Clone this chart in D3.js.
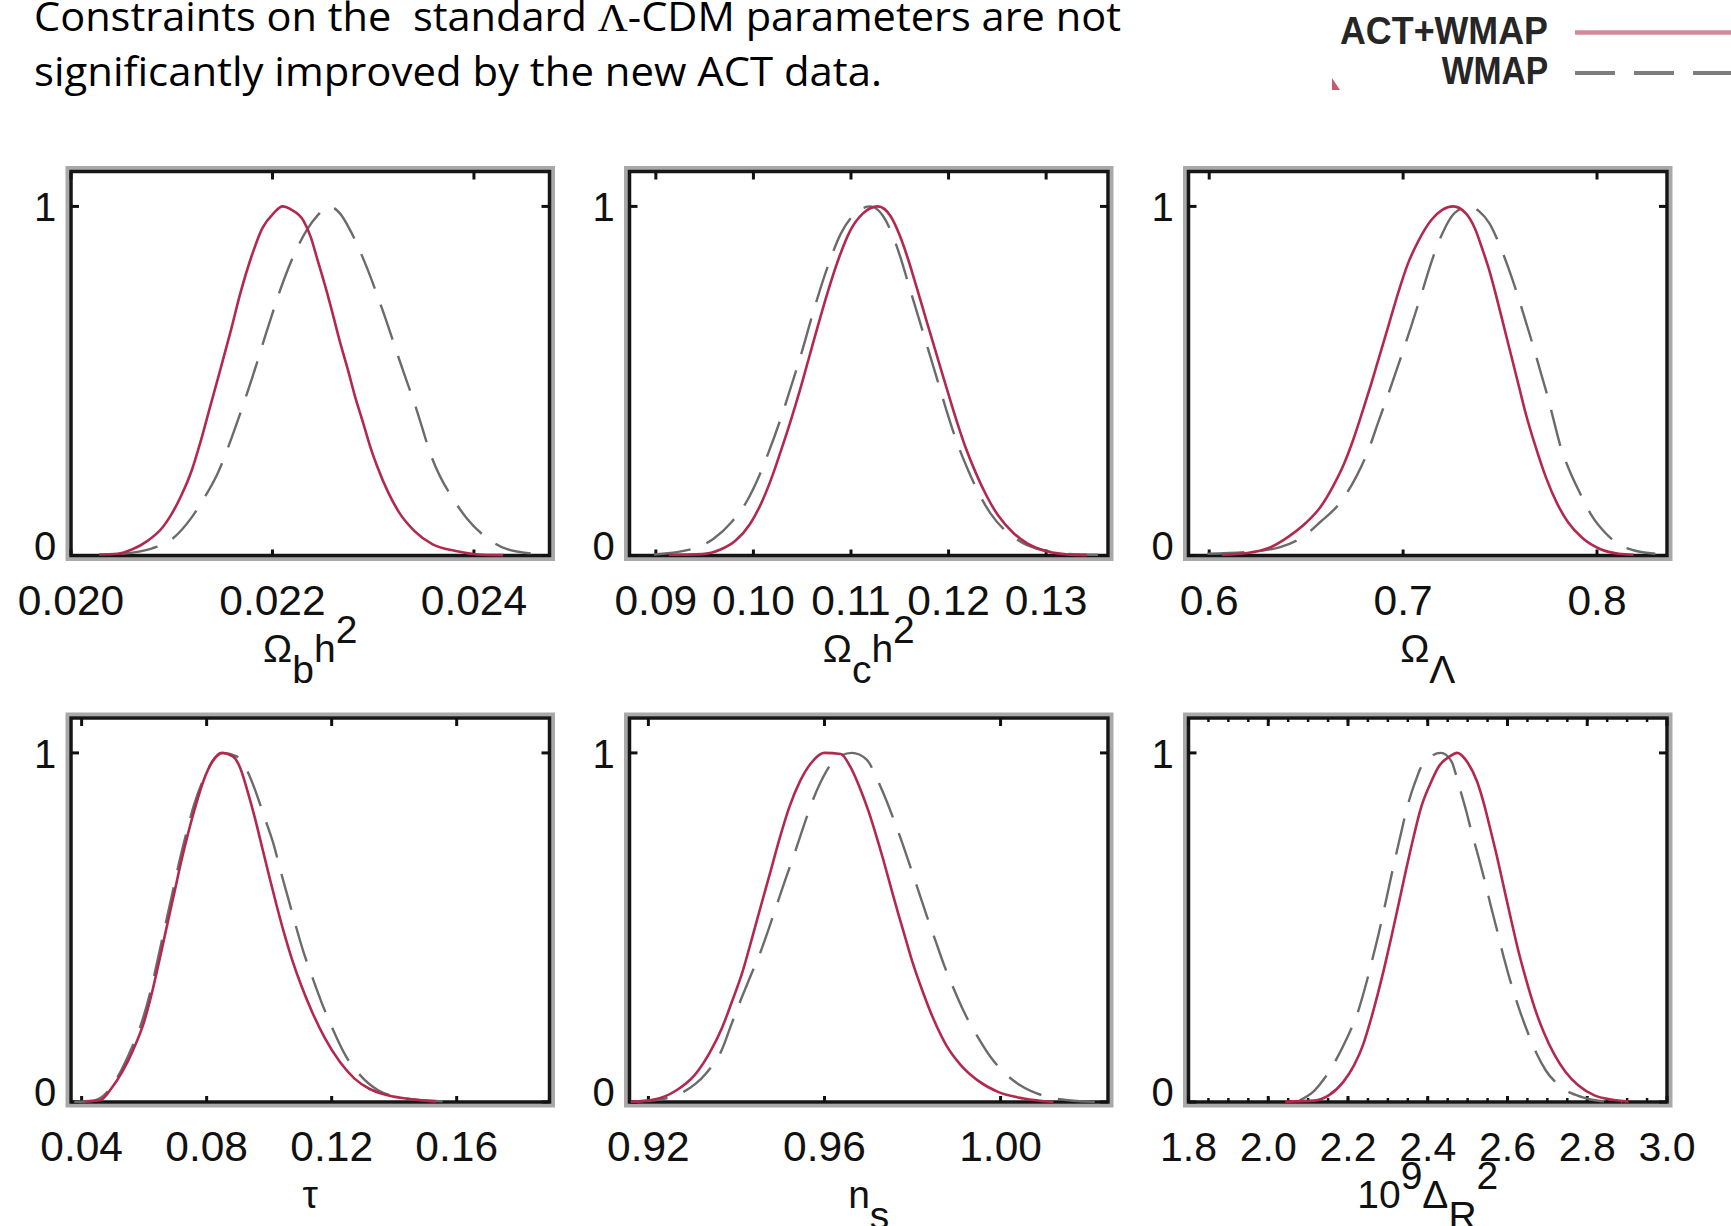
<!DOCTYPE html>
<html>
<head>
<meta charset="utf-8">
<script src="https://cdn.jsdelivr.net/npm/d3@7"></script>
<style>
  html, body { margin: 0; padding: 0; background: #fff; }
  svg { display: block; }
</style>
</head>
<body>
<svg id="chart" width="1731" height="1226"></svg>
<script>
// ---- Marginalised 1-D posteriors (normalised to peak = 1) ----
// Each series is [parameter value, relative likelihood].

// Omega_b h^2
const obhAct = [[0.02028,0.003],[0.02046,0.005],[0.02061,0.018],[0.02076,0.042],[0.02091,0.081],[0.02098,0.110],[0.02109,0.169],[0.02120,0.245],[0.02129,0.330],[0.02138,0.425],[0.02148,0.530],[0.02159,0.648],[0.02168,0.750],[0.02179,0.855],[0.02190,0.938],[0.02201,0.980],[0.02210,1.0],[0.02219,0.990],[0.02231,0.958],[0.02238,0.912],[0.02245,0.844],[0.02253,0.765],[0.02260,0.690],[0.02267,0.612],[0.02275,0.531],[0.02282,0.455],[0.02290,0.380],[0.02297,0.312],[0.02304,0.255],[0.02315,0.180],[0.02326,0.122],[0.02341,0.070],[0.02359,0.032],[0.02382,0.013],[0.02404,0.003],[0.02429,0.001]];
const obhWmap = [[0.02050,0.005],[0.02080,0.020],[0.02098,0.042],[0.02120,0.110],[0.02131,0.159],[0.02146,0.238],[0.02164,0.374],[0.02180,0.510],[0.02196,0.658],[0.02212,0.795],[0.02234,0.932],[0.02245,0.975],[0.02256,1.0],[0.02267,0.980],[0.02278,0.927],[0.02291,0.844],[0.02310,0.697],[0.02326,0.560],[0.02343,0.418],[0.02358,0.282],[0.02382,0.150],[0.02393,0.106],[0.02417,0.042],[0.02433,0.018],[0.02466,0.004]];

// Omega_c h^2
const ochAct = [[0.09133,0.002],[0.09474,0.004],[0.09663,0.017],[0.09815,0.042],[0.09967,0.091],[0.10081,0.150],[0.10194,0.228],[0.10289,0.306],[0.10384,0.388],[0.10479,0.476],[0.10573,0.570],[0.10668,0.665],[0.10763,0.756],[0.10877,0.853],[0.10991,0.930],[0.11123,0.980],[0.11275,1.0],[0.11408,0.971],[0.11502,0.915],[0.11578,0.855],[0.11673,0.768],[0.11768,0.678],[0.11863,0.589],[0.11957,0.501],[0.12052,0.413],[0.12166,0.316],[0.12280,0.236],[0.12393,0.169],[0.12507,0.115],[0.12659,0.066],[0.12810,0.034],[0.13000,0.013],[0.13227,0.003],[0.13417,0.001]];
const ochWmap = [[0.08981,0.003],[0.09360,0.018],[0.09588,0.047],[0.09777,0.096],[0.09929,0.154],[0.10043,0.218],[0.10156,0.296],[0.10270,0.384],[0.10384,0.482],[0.10498,0.585],[0.10592,0.677],[0.10687,0.765],[0.10782,0.844],[0.10896,0.922],[0.11028,0.976],[0.11199,1.0],[0.11332,0.971],[0.11427,0.917],[0.11502,0.858],[0.11597,0.770],[0.11692,0.682],[0.11787,0.594],[0.11882,0.506],[0.11976,0.418],[0.12090,0.321],[0.12204,0.242],[0.12318,0.174],[0.12431,0.120],[0.12583,0.071],[0.12754,0.037],[0.12962,0.015],[0.13190,0.005],[0.13531,0.002]];

// Omega_Lambda
const olAct = [[0.60657,0.002],[0.61972,0.007],[0.63099,0.022],[0.64038,0.052],[0.64977,0.093],[0.65728,0.138],[0.66385,0.198],[0.66948,0.262],[0.67418,0.330],[0.67887,0.409],[0.68357,0.492],[0.68826,0.580],[0.69296,0.668],[0.69765,0.756],[0.70235,0.834],[0.70798,0.902],[0.71455,0.961],[0.72019,0.990],[0.72582,1.0],[0.73239,0.980],[0.73709,0.936],[0.74085,0.878],[0.74460,0.814],[0.74836,0.736],[0.75211,0.653],[0.75587,0.570],[0.75962,0.487],[0.76338,0.404],[0.76808,0.316],[0.77371,0.223],[0.77934,0.150],[0.78498,0.096],[0.79249,0.050],[0.80188,0.018],[0.81127,0.005],[0.81878,0.002]];
const olWmap = [[0.59906,0.005],[0.62160,0.011],[0.63662,0.024],[0.64789,0.052],[0.65728,0.096],[0.66761,0.152],[0.67606,0.228],[0.68169,0.296],[0.68732,0.384],[0.69296,0.472],[0.69859,0.563],[0.70423,0.658],[0.70986,0.756],[0.71455,0.840],[0.72019,0.922],[0.72676,0.982],[0.73427,1.0],[0.73940,0.985],[0.74460,0.951],[0.75023,0.883],[0.75493,0.814],[0.75962,0.736],[0.76338,0.668],[0.76714,0.599],[0.77089,0.526],[0.77465,0.453],[0.77746,0.392],[0.78122,0.312],[0.78592,0.242],[0.79155,0.175],[0.79718,0.115],[0.80376,0.068],[0.81127,0.032],[0.81878,0.015],[0.83005,0.005]];

// tau
const tauAct = [[0.04118,0.002],[0.04590,0.005],[0.04944,0.038],[0.05298,0.086],[0.05652,0.150],[0.06006,0.232],[0.06242,0.310],[0.06478,0.402],[0.06714,0.498],[0.06950,0.593],[0.07186,0.689],[0.07422,0.775],[0.07658,0.852],[0.07894,0.919],[0.08189,0.976],[0.08484,1.0],[0.08838,0.990],[0.09074,0.957],[0.09310,0.890],[0.09546,0.813],[0.09782,0.727],[0.10018,0.641],[0.10254,0.558],[0.10490,0.480],[0.10726,0.410],[0.11021,0.335],[0.11375,0.258],[0.11788,0.182],[0.12260,0.115],[0.12732,0.067],[0.13204,0.038],[0.13794,0.019],[0.14619,0.007],[0.15327,0.001]];
const tauWmap = [[0.03764,0.0],[0.04354,0.003],[0.04826,0.029],[0.05239,0.086],[0.05593,0.153],[0.05947,0.235],[0.06183,0.310],[0.06419,0.402],[0.06655,0.498],[0.06891,0.593],[0.07127,0.689],[0.07363,0.775],[0.07599,0.852],[0.07870,0.919],[0.08189,0.976],[0.08543,1.0],[0.08956,0.990],[0.09251,0.957],[0.09546,0.895],[0.09841,0.818],[0.10136,0.740],[0.10372,0.660],[0.10608,0.584],[0.10844,0.507],[0.11080,0.435],[0.11375,0.359],[0.11670,0.287],[0.12024,0.211],[0.12437,0.134],[0.12909,0.077],[0.13499,0.033],[0.14147,0.014],[0.14973,0.005],[0.15799,0.001]];

// n_s
const nsAct = [[0.91622,0.001],[0.92126,0.007],[0.92630,0.033],[0.93050,0.077],[0.93387,0.140],[0.93681,0.215],[0.93891,0.285],[0.94143,0.375],[0.94353,0.469],[0.94563,0.565],[0.94773,0.660],[0.94983,0.756],[0.95193,0.842],[0.95445,0.919],[0.95697,0.971],[0.95992,1.0],[0.96370,0.997],[0.96580,0.962],[0.96790,0.904],[0.97000,0.833],[0.97168,0.766],[0.97336,0.694],[0.97504,0.617],[0.97672,0.541],[0.97840,0.469],[0.98008,0.397],[0.98218,0.321],[0.98471,0.239],[0.98765,0.163],[0.99101,0.105],[0.99479,0.062],[0.99941,0.029],[1.00529,0.010],[1.01202,0.0]];
const nsWmap = [[0.91600,0.001],[0.92126,0.005],[0.92798,0.029],[0.93303,0.081],[0.93681,0.153],[0.93849,0.210],[0.94059,0.280],[0.94311,0.358],[0.94563,0.435],[0.94731,0.495],[0.94941,0.574],[0.95109,0.636],[0.95319,0.712],[0.95487,0.775],[0.95697,0.852],[0.95908,0.915],[0.96244,0.981],[0.96622,1.0],[0.96958,0.981],[0.97168,0.933],[0.97336,0.885],[0.97546,0.818],[0.97756,0.746],[0.97966,0.668],[0.98134,0.605],[0.98345,0.525],[0.98513,0.465],[0.98723,0.390],[0.98933,0.325],[0.99185,0.254],[0.99437,0.196],[0.99773,0.129],[1.00109,0.081],[1.00445,0.048],[1.00950,0.019],[1.01538,0.005],[1.02210,0.0]];

// 10^9 Delta_R^2
const drAct = [[2.0426,0.001],[2.1152,0.004],[2.1515,0.019],[2.1878,0.057],[2.2150,0.105],[2.2376,0.163],[2.2558,0.230],[2.2739,0.306],[2.2921,0.390],[2.3102,0.480],[2.3283,0.574],[2.3465,0.670],[2.3646,0.760],[2.3828,0.842],[2.4054,0.909],[2.4281,0.962],[2.4553,0.990],[2.4735,1.0],[2.5007,0.971],[2.5234,0.919],[2.5415,0.852],[2.5551,0.790],[2.5732,0.705],[2.5914,0.612],[2.6095,0.520],[2.6277,0.431],[2.6458,0.354],[2.6685,0.268],[2.6912,0.199],[2.7184,0.134],[2.7456,0.086],[2.7773,0.048],[2.8181,0.019],[2.8590,0.007],[2.9034,0.001]];
const drWmap = [[2.0789,0.005],[2.1152,0.032],[2.1424,0.070],[2.1696,0.120],[2.1969,0.182],[2.2240,0.255],[2.2422,0.325],[2.2603,0.405],[2.2785,0.490],[2.2966,0.584],[2.3147,0.679],[2.3329,0.770],[2.3510,0.855],[2.3692,0.919],[2.3873,0.967],[2.4327,1.0],[2.4599,0.975],[2.4689,0.945],[2.4825,0.890],[2.4961,0.835],[2.5098,0.774],[2.5279,0.699],[2.5415,0.640],[2.5596,0.555],[2.5732,0.495],[2.5914,0.411],[2.6050,0.355],[2.6277,0.272],[2.6458,0.214],[2.6730,0.139],[2.6957,0.091],[2.7320,0.045],[2.7864,0.014],[2.8322,0.003],[2.8866,0.0]];

// ---- Axis ranges and tick values ----
const obhRange = [0.020, 0.02475];
const ochRange = [0.0873, 0.13634];
const olRange  = [0.58932, 0.8361];
const tauRange = [0.0366, 0.1897];
const nsRange  = [0.91571, 1.0244];
const drRange  = [1.8, 3.0];

const obhTicks = [0.020, 0.022, 0.024];
const ochTicks = [0.09, 0.10, 0.11, 0.12, 0.13];
const olTicks  = [0.6, 0.7, 0.8];
const tauTicks = [0.04, 0.08, 0.12, 0.16];
const nsTicks  = [0.92, 0.96, 1.00];
const drTicks  = [1.8, 2.0, 2.2, 2.4, 2.6, 2.8, 3.0];
const drMinorTicks = d3.range(1.85, 3.0, 0.05);

const yTicks = [0, 1];

// Axis titles: [text, level]  level 0 = baseline, 1 = subscript, -1 = superscript
const obhTitle = [["Ω",0],["b",1],["h",0],["2",-1]];
const ochTitle = [["Ω",0],["c",1],["h",0],["2",-1]];
const olTitle  = [["Ω",0],["Λ",1]];
const tauTitle = [["τ",0]];
const nsTitle  = [["n",0],["s",1]];
const drTitle  = [["10",0],["9",-1],["Δ",0],["R",1],["2",-1]];

const seriesNames = ["ACT+WMAP", "WMAP"];

// ---- Layout ----
const svg = d3.select("#chart");
const PW = 478.5, PH = 384;
const colLeft = [71, 629.5, 1188.5];
const rowTop = [171.5, 718];
const RED = "#b3294d", GREY = "#6b6b6b";
const DASH = "37,17";
const tickFont = "'Liberation Sans', Arial, Helvetica, sans-serif";

const panels = [
  {act: obhAct, wmap: obhWmap, range: obhRange, ticks: obhTicks, fmt: d3.format(".3f"), title: obhTitle, col: 0, row: 0, fs: 42.5},
  {act: ochAct, wmap: ochWmap, range: ochRange, ticks: ochTicks, fmt: d3.format(".2f"), title: ochTitle, col: 1, row: 0, fs: 42.5},
  {act: olAct,  wmap: olWmap,  range: olRange,  ticks: olTicks,  fmt: d3.format(".1f"), title: olTitle,  col: 2, row: 0, fs: 42.5},
  {act: tauAct, wmap: tauWmap, range: tauRange, ticks: tauTicks, fmt: d3.format(".2f"), title: tauTitle, col: 0, row: 1, fs: 42.5},
  {act: nsAct,  wmap: nsWmap,  range: nsRange,  ticks: nsTicks,  fmt: d3.format(".2f"), title: nsTitle,  col: 1, row: 1, fs: 42.5},
  {act: drAct,  wmap: drWmap,  range: drRange,  ticks: drTicks,  fmt: d3.format(".1f"), title: drTitle,  col: 2, row: 1, fs: 41, minor: drMinorTicks}
];

panels.forEach(p => {
  const left = colLeft[p.col], top = rowTop[p.row];
  const right = left + PW, bottom = top + PH;
  const x = d3.scaleLinear().domain(p.range).range([left, right]);
  const y = d3.scaleLinear().domain([0, 1.1]).range([bottom, top]);
  const g = svg.append("g");

  // soft grey halo around the frame
  g.append("rect")
    .attr("x", left - 3.5).attr("y", top - 3.5)
    .attr("width", PW + 7).attr("height", PH + 7)
    .attr("fill", "none").attr("stroke", "#a9a9a9").attr("stroke-width", 4);
  // frame
  g.append("rect")
    .attr("x", left).attr("y", top).attr("width", PW).attr("height", PH)
    .attr("fill", "none").attr("stroke", "#161616").attr("stroke-width", 3.5);

  // x ticks (top, pointing in; bottom, pointing in)
  const tg = g.append("g").attr("stroke", "#111").attr("stroke-width", 3);
  p.ticks.forEach(t => {
    tg.append("line").attr("x1", x(t)).attr("x2", x(t)).attr("y1", top).attr("y2", top + 8);
    tg.append("line").attr("x1", x(t)).attr("x2", x(t)).attr("y1", bottom).attr("y2", bottom - 6);
  });
  if (p.minor) {
    p.minor.forEach(t => {
      tg.append("line").attr("x1", x(t)).attr("x2", x(t)).attr("y1", top).attr("y2", top + 4).attr("stroke-width", 2.5);
      tg.append("line").attr("x1", x(t)).attr("x2", x(t)).attr("y1", bottom).attr("y2", bottom - 4).attr("stroke-width", 2.5);
    });
  }
  // y ticks at 0 and 1 on both sides
  yTicks.forEach(v => {
    tg.append("line").attr("x1", left).attr("x2", left + 8).attr("y1", y(v)).attr("y2", y(v));
    tg.append("line").attr("x1", right).attr("x2", right - 8).attr("y1", y(v)).attr("y2", y(v));
  });

  // x tick labels
  g.append("g").selectAll("text").data(p.ticks).join("text")
    .attr("x", d => x(d)).attr("y", bottom + 59)
    .attr("text-anchor", "middle")
    .attr("font-family", tickFont).attr("font-size", p.fs).attr("fill", "#111")
    .text(d => p.fmt(d));

  // y tick labels
  g.append("g").selectAll("text").data(yTicks).join("text")
    .attr("x", left - 26).attr("y", d => d === 1 ? y(d) + 15 : y(d) + 4)
    .attr("text-anchor", "middle")
    .attr("font-family", tickFont).attr("font-size", 40).attr("fill", "#111")
    .text(d => d);

  // axis title with sub/superscripts
  const tt = g.append("text")
    .attr("x", (left + right) / 2).attr("y", bottom + 106)
    .attr("text-anchor", "middle")
    .attr("font-family", tickFont).attr("font-size", 39).attr("fill", "#111");
  let shift = 0;
  p.title.forEach(([s, lvl]) => {
    const target = lvl > 0 ? 21 : (lvl < 0 ? -19 : 0);
    tt.append("tspan").attr("dy", target - shift).text(s);
    shift = target;
  });

  // curves
  const line = d3.line().x(d => x(d[0])).y(d => y(d[1])).curve(d3.curveMonotoneX);
  g.append("path").datum(p.wmap).attr("d", line)
    .attr("fill", "none").attr("stroke", GREY).attr("stroke-width", 2.4)
    .attr("stroke-dasharray", DASH);
  g.append("path").datum(p.act).attr("d", line)
    .attr("fill", "none").attr("stroke", RED).attr("stroke-width", 2.6)
    .attr("stroke-linejoin", "round");
});

// ---- Heading ----
const head = svg.append("g").attr("font-family", "'Open Sans', Lato, sans-serif").attr("font-size", 40).attr("fill", "#000");
const h1 = head.append("text").attr("x", 34).attr("y", 31)
  .attr("textLength", 1087).attr("lengthAdjust", "spacingAndGlyphs")
  .style("white-space", "pre");
h1.append("tspan").text("Constraints on the  standard ");
h1.append("tspan").attr("font-family", "'Liberation Serif', 'Times New Roman', serif").text("Λ");
h1.append("tspan").text("-CDM parameters are not");
head.append("text").attr("x", 34).attr("y", 86)
  .attr("textLength", 848).attr("lengthAdjust", "spacingAndGlyphs")
  .text("significantly improved by the new ACT data.");

// ---- Legend ----
const leg = svg.append("g");
const legText = [[1340, 44, 208], [1441.7, 84, 106.6]];
leg.selectAll("text").data(seriesNames).join("text")
  .attr("x", (d, i) => legText[i][0]).attr("y", (d, i) => legText[i][1])
  .attr("textLength", (d, i) => legText[i][2]).attr("lengthAdjust", "spacingAndGlyphs")
  .attr("font-family", tickFont).attr("font-weight", "bold").attr("font-size", 38)
  .attr("fill", "#262626").text(d => d);
leg.append("line").attr("x1", 1575).attr("x2", 1731).attr("y1", 32.5).attr("y2", 32.5)
  .attr("stroke", "#d38799").attr("stroke-width", 4.5);
leg.append("line").attr("x1", 1575).attr("x2", 1731).attr("y1", 73).attr("y2", 73)
  .attr("stroke", "#7d7d7d").attr("stroke-width", 4).attr("stroke-dasharray", "40,19");
leg.append("path").attr("d", "M1332,78 L1332,90 L1340,90 Z").attr("fill", "#c45a72");
</script>
</body>
</html>
